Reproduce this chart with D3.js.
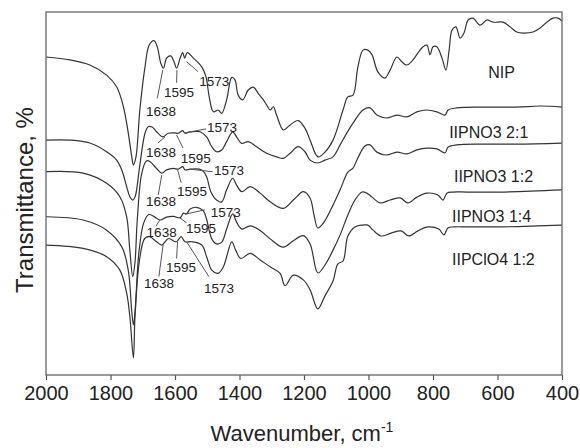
<!DOCTYPE html>
<html>
<head>
<meta charset="utf-8">
<script src="https://cdn.jsdelivr.net/npm/d3@7/dist/d3.min.js"></script>
<style>
  body { margin: 0; background: #fff; }
  text { font-family: "Liberation Sans", Arial, sans-serif; fill: #222; }
</style>
</head>
<body>
<div id="chart"></div>
<script>
// spectra, [wavenumber, transmittance] (curves are offset)
const nip = [[2000,87.6],[1926,86.8],[1864,85.4],[1812,82.6],[1781,79.4],[1760,73.9],[1745,66.7],[1734,60.1],[1729,57.9],[1721,60.1],[1709,73.0],[1693,84.9],[1680,90.9],[1665,92.1],[1655,90.4],[1644,85.9],[1636,84.5],[1626,87.3],[1613,87.9],[1603,86.3],[1595,84.5],[1584,87.3],[1576,88.8],[1570,87.3],[1562,88.8],[1543,87.3],[1517,84.9],[1504,82.2],[1494,76.7],[1481,72.5],[1466,73.0],[1455,72.1],[1440,75.8],[1424,82.0],[1414,81.3],[1404,77.1],[1390,75.8],[1373,78.5],[1357,79.3],[1342,77.6],[1326,75.8],[1316,74.4],[1305,73.0],[1295,73.9],[1285,71.6],[1264,67.5],[1243,68.9],[1218,70.1],[1197,68.0],[1181,64.7],[1157,60.1],[1135,61.4],[1110,64.7],[1079,73.0],[1064,76.6],[1048,77.1],[1033,84.8],[1017,89.5],[1002,89.5],[989,88.2],[971,83.5],[949,81.8],[933,84.0],[912,87.6],[896,86.2],[881,85.4],[862,86.8],[847,88.7],[831,90.4],[819,90.9],[809,88.2],[800,90.4],[788,90.4],[772,87.3],[760,84.0],[750,89.5],[741,95.0],[729,95.9],[716,92.8],[704,94.2],[691,97.8],[676,98.3],[654,96.4],[633,97.8],[614,97.2],[583,97.2],[561,95.9],[540,94.5],[521,94.2],[490,94.5],[468,95.6],[447,97.2],[428,98.3],[412,98.3],[400,97.5]];

const no3_21 = [[2000,64.7],[1926,64.7],[1864,63.9],[1812,61.5],[1781,59.2],[1765,56.5],[1750,51.9],[1740,49.1],[1731,48.2],[1724,49.0],[1709,57.9],[1693,66.6],[1683,68.4],[1671,68.3],[1657,67.0],[1638,65.6],[1621,66.6],[1600,66.7],[1590,66.6],[1576,67.3],[1569,66.6],[1553,67.0],[1522,67.0],[1502,65.6],[1486,62.9],[1471,61.5],[1455,62.0],[1440,64.3],[1421,67.0],[1409,65.6],[1393,63.8],[1373,64.3],[1347,62.9],[1316,61.1],[1285,60.1],[1264,59.7],[1243,61.1],[1218,62.9],[1197,61.5],[1181,59.2],[1157,58.4],[1135,59.2],[1110,60.1],[1088,63.4],[1067,66.7],[1048,69.4],[1017,73.0],[995,73.6],[974,71.6],[943,70.8],[912,71.6],[881,71.1],[850,72.5],[819,73.0],[788,72.5],[763,71.6],[753,73.0],[726,73.6],[645,73.8],[540,73.8],[468,74.1],[400,73.8]];

const no3_12 = [[2000,56.0],[1885,55.6],[1812,52.8],[1771,49.1],[1750,43.6],[1740,34.4],[1731,27.1],[1724,31.1],[1717,42.7],[1703,55.6],[1688,59.0],[1678,58.8],[1657,56.9],[1641,55.6],[1626,56.5],[1605,56.9],[1590,56.7],[1576,57.4],[1569,56.5],[1553,56.7],[1517,56.5],[1502,54.6],[1489,50.5],[1471,48.2],[1455,47.7],[1440,51.0],[1421,54.2],[1409,52.3],[1393,50.5],[1367,51.9],[1336,50.1],[1305,47.7],[1264,45.9],[1233,48.2],[1202,50.5],[1181,48.7],[1169,44.1],[1157,40.5],[1138,42.1],[1110,46.8],[1088,51.0],[1064,55.9],[1048,57.0],[1033,59.8],[1011,63.1],[995,63.4],[974,61.4],[943,60.6],[912,61.4],[881,60.9],[850,62.0],[819,62.5],[788,62.3],[763,61.2],[753,62.8],[726,63.4],[645,63.6],[540,63.6],[400,63.9]];

const no3_14 = [[2000,43.6],[1885,42.7],[1812,39.9],[1765,35.3],[1745,28.9],[1734,17.4],[1729,13.8],[1724,17.4],[1712,33.7],[1697,41.9],[1681,44.2],[1666,43.7],[1646,42.7],[1626,43.5],[1605,43.7],[1584,43.3],[1574,44.6],[1564,44.4],[1553,45.7],[1533,46.2],[1512,45.2],[1502,42.9],[1486,37.5],[1471,36.1],[1455,36.6],[1440,40.2],[1421,44.4],[1409,42.1],[1393,40.2],[1367,41.1],[1336,39.8],[1305,37.5],[1264,35.2],[1233,37.0],[1202,38.4],[1181,36.1],[1157,28.1],[1135,30.3],[1110,34.4],[1088,38.6],[1064,44.1],[1042,48.2],[1020,50.4],[1005,50.1],[989,49.0],[964,47.4],[933,48.2],[902,48.8],[878,47.4],[850,49.0],[819,50.1],[785,49.6],[769,48.2],[757,50.1],[738,50.4],[695,50.4],[592,50.4],[400,51.0]];

const clo4_12 = [[2000,35.8],[1885,34.9],[1812,32.6],[1771,28.9],[1750,22.6],[1740,16.1],[1729,4.7],[1724,16.1],[1710,31.7],[1694,37.6],[1679,38.1],[1657,36.7],[1641,35.8],[1620,37.6],[1596,36.7],[1581,38.1],[1569,36.7],[1548,36.7],[1517,35.8],[1502,32.6],[1486,28.9],[1466,28.0],[1450,29.8],[1424,36.7],[1412,34.4],[1396,32.1],[1367,33.5],[1336,31.7],[1305,29.8],[1274,28.0],[1259,24.6],[1233,27.5],[1202,26.2],[1181,23.4],[1157,18.2],[1135,21.8],[1110,25.9],[1095,30.6],[1079,31.4],[1064,38.3],[1042,40.8],[1017,41.3],[1002,41.3],[986,39.9],[961,38.3],[930,39.1],[899,39.7],[875,38.3],[847,39.7],[816,40.8],[782,40.2],[766,38.6],[754,40.5],[735,40.8],[692,40.8],[590,40.8],[400,41.3]];

const seriesList = [nip, no3_21, no3_12, no3_14, clo4_12];
const seriesNames = ["NIP", "IIPNO3 2:1", "IIPNO3 1:2", "IIPNO3 1:4", "IIPClO4 1:2"];
// where each name sits: [wavenumber, transmittance]
const namePos = [[629, 81.8], [750, 65.3], [735, 53.3], [741, 42.2], [741, 30.3]];

const xTicks = [2000, 1800, 1600, 1400, 1200, 1000, 800, 600, 400];

// band labels: [series, text, line from (w,T), line to (w,T), text at (w,T)]
const bands = [
  [0, "1638", [1638, 84.0], [1655, 76.2], [1690, 71.3]],
  [0, "1595", [1594, 84.0], [1595, 80.5], [1634, 76.5]],
  [0, "1573", [1564, 86.3], [1529, 83.6], [1525, 79.6]],
  [1, "1638", [1631, 65.6], [1653, 63.9], [1690, 60.1]],
  [1, "1595", [1595, 66.1], [1575, 62.5], [1582, 58.4]],
  [1, "1573", [1569, 66.7], [1504, 67.8], [1501, 67.0]],
  [2, "1638", [1641, 55.1], [1652, 49.6], [1690, 46.6]],
  [2, "1595", [1592, 56.5], [1581, 53.0], [1594, 49.3]],
  [2, "1573", [1554, 56.7], [1483, 56.0], [1479, 55.1]],
  [3, "1638", [1647, 42.7], [1659, 41.0], [1688, 38.1]],
  [3, "1595", [1585, 43.3], [1564, 41.9], [1566, 39.1]],
  [3, "1573", [1569, 44.3], [1507, 45.5], [1489, 43.4]],
  [4, "1638", [1637, 35.8], [1650, 27.1], [1696, 24.0]],
  [4, "1595", [1592, 36.7], [1595, 32.1], [1628, 28.5]],
  [4, "1573", [1564, 36.7], [1495, 27.1], [1510, 22.6]]
];

const W = 580, H = 448;
const margin = {top: 12, right: 18, bottom: 73, left: 46},
    width = W - margin.left - margin.right,
    height = H - margin.top - margin.bottom;

const xScale = d3.scaleLinear().domain([2000, 400]).range([0, width]);
const yScale = d3.scaleLinear().domain([0, 100]).range([height, 0]);

const svg = d3.select('#chart').append('svg')
    .attr('width', W)
    .attr('height', H);

const g = svg.append('g')
    .attr('transform', 'translate(' + margin.left + ',' + margin.top + ')');

const line = d3.line()
    .x(d => xScale(d[0]))
    .y(d => yScale(d[1]))
    .curve(d3.curveCatmullRom.alpha(0.5));

g.selectAll('.spec')
    .data(seriesList)
    .enter()
    .append('path')
    .attr('class', 'spec')
    .attr('d', line)
    .style('fill', 'none')
    .style('stroke', '#333')
    .style('stroke-width', 1.2);

// band leader lines and numbers
g.selectAll('.lead')
    .data(bands)
    .enter()
    .append('line')
    .attr('x1', d => xScale(d[2][0]))
    .attr('y1', d => yScale(d[2][1]))
    .attr('x2', d => xScale(d[3][0]))
    .attr('y2', d => yScale(d[3][1]))
    .style('stroke', '#555')
    .style('stroke-width', 1);

g.selectAll('.band')
    .data(bands)
    .enter()
    .append('text')
    .attr('x', d => xScale(d[4][0]))
    .attr('y', d => yScale(d[4][1]))
    .style('font-size', '13.5px')
    .text(d => d[1]);

// series names
g.selectAll('.name')
    .data(seriesNames)
    .enter()
    .append('text')
    .attr('x', (d, i) => xScale(namePos[i][0]))
    .attr('y', (d, i) => yScale(namePos[i][1]))
    .style('font-size', '16px')
    .text(d => d);

// x axis
const xAxis = g.append('g')
    .attr('transform', 'translate(0,' + height + ')')
    .call(d3.axisBottom(xScale)
      .tickValues(xTicks)
      .tickFormat(d3.format('d'))
      .tickSize(5)
      .tickPadding(6));
xAxis.select('.domain').remove();
xAxis.selectAll('line').style('stroke', '#555').style('stroke-width', 1.2);
xAxis.selectAll('text')
    .style('font-size', '20px')
    .style('font-family', '"Liberation Sans", Arial, sans-serif')
    .style('fill', '#222');

// frame
g.append('rect')
    .attr('x', 0).attr('y', 0)
    .attr('width', width).attr('height', height)
    .style('fill', 'none')
    .style('stroke', '#666')
    .style('stroke-width', 1.3);

// axis titles
const xt = svg.append('text')
    .attr('x', 302)
    .attr('y', 441)
    .style('text-anchor', 'middle')
    .style('font-size', '22px');
xt.append('tspan').text('Wavenumber, cm');
xt.append('tspan').attr('dy', -9).style('font-size', '14px').text('-1');

svg.append('text')
    .attr('transform', 'translate(33,200) rotate(-90)')
    .style('text-anchor', 'middle')
    .style('font-size', '24px')
    .text('Transmittance, %');
</script>
</body>
</html>
